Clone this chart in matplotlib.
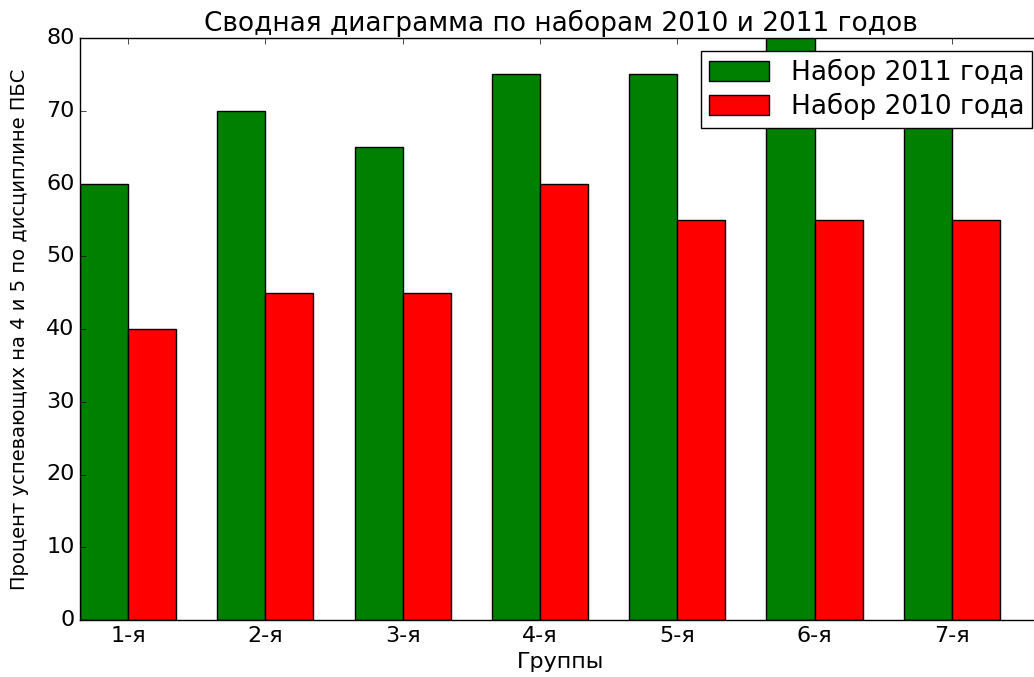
import matplotlib
matplotlib.use('Agg')
import matplotlib.pyplot as plt
import numpy as np

plt.style.use('classic')

groups = ['1-я', '2-я', '3-я', '4-я', '5-я', '6-я', '7-я']
nabor_2011 = [60, 70, 65, 75, 75, 85, 75]
nabor_2010 = [40, 45, 45, 60, 55, 55, 55]

ind = np.arange(len(groups))
width = 0.35

# правая граница осей уходит за край картинки, как на исходном скриншоте
step = 137.3
right_px = 1042
fig = plt.figure(figsize=(10.34, 6.77), dpi=100, facecolor='white')
ax = fig.add_axes([80/1034, 57/677, (right_px-80)/1034, (620-38)/677])

ax.bar(ind, nabor_2011, width, color='green', align='edge', label='Набор 2011 года')
ax.bar(ind + width, nabor_2010, width, color='red', align='edge', label='Набор 2010 года')

ax.set_xlim(0, (right_px-80)/step)
ax.set_ylim(0, 80)
ax.set_xticks(ind + width)
ax.set_xticklabels(groups)
ax.tick_params(labelsize=16)
ax.spines['right'].set_visible(False)

ax.set_title('Сводная диаграмма по наборам 2010 и 2011 годов', fontsize=19)
ax.set_xlabel('Группы', fontsize=16)
ax.set_ylabel('Процент успевающих на 4 и 5 по дисциплине ПБС', fontsize=14, labelpad=12)

ax.legend(loc='upper right', bbox_to_anchor=(1032/1034, 1 - 51/677),
          bbox_transform=fig.transFigure, borderaxespad=0, fontsize=19,
          handlelength=2.3, handleheight=0.8, borderpad=0.3, labelspacing=0.25)

fig.savefig('out.png', dpi=100, facecolor='white')
